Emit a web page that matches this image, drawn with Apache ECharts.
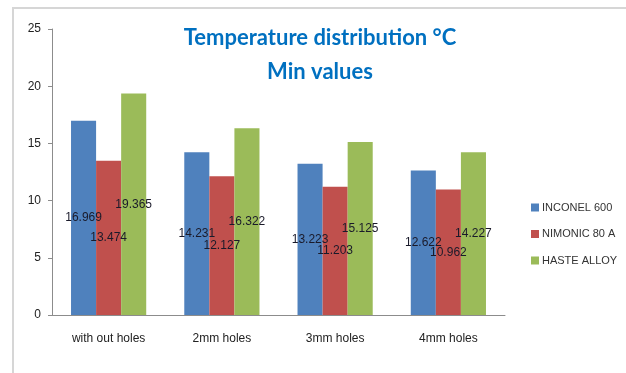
<!DOCTYPE html>
<html><head><meta charset="utf-8">
<script src="https://cdn.jsdelivr.net/npm/echarts@6/dist/echarts.min.js"></script>
<style>html,body{margin:0;padding:0;background:#fff}#c{width:626px;height:373px}</style>
</head><body><div id="c"></div>
<script>
const categories = ['with out holes', '2mm holes', '3mm holes', '4mm holes'];
const seriesNames = ['INCONEL 600', 'NIMONIC 80 A', 'HASTE ALLOY'];
const inconel = [16.969, 14.231, 13.223, 12.622];
const nimonic = [13.474, 12.127, 11.203, 10.962];
const haste = [19.365, 16.322, 15.125, 14.227];
const colors = ['#4F81BD', '#C0504D', '#9BBB59'];
const titleLines = ['Temperature distribution °C', 'Min values'];

const chart = echarts.init(document.getElementById('c'));
const values = [inconel, nimonic, haste];
chart.setOption({
  animation: false,
  graphic: [
    {type: 'rect', shape: {x: 13, y: 8, width: 700, height: 500}, style: {fill: 'none', stroke: '#d6d6d6', lineWidth: 2}, silent: true},
    {type: 'text', x: 320, y: 38, style: {text: titleLines[0], font: 'bold 22px Lato', fill: '#0070C0', textAlign: 'center', textVerticalAlign: 'middle'}},
    {type: 'text', x: 320, y: 72, style: {text: titleLines[1], font: 'bold 22px Lato', fill: '#0070C0', textAlign: 'center', textVerticalAlign: 'middle'}}
  ],
  legend: {
    orient: 'vertical', left: 526, top: 197,
    itemWidth: 8, itemHeight: 8, itemGap: 15.5,
    icon: 'rect',
    textStyle: {fontFamily: 'Liberation Sans', fontSize: 11, color: '#333', padding: [0,0,0,-2]},
    data: seriesNames
  },
  grid: {left: 52, right: 121, top: 29, bottom: 58},
  xAxis: {
    type: 'category', data: categories,
    axisLine: {lineStyle: {color: '#8c8c8c'}},
    axisTick: {length: 5, lineStyle: {color: '#8c8c8c'}},
    axisLabel: {fontFamily: 'Liberation Sans', fontSize: 12, color: '#222', margin: 18}
  },
  yAxis: {
    type: 'value', min: 0, max: 25, interval: 5,
    splitLine: {show: false},
    axisLine: {show: true, lineStyle: {color: '#8c8c8c'}},
    axisTick: {show: true, length: 4, lineStyle: {color: '#8c8c8c'}},
    axisLabel: {fontFamily: 'Liberation Sans', fontSize: 12, color: '#222', margin: 11}
  },
  series: seriesNames.map((n, i) => ({
    name: n, type: 'bar', data: values[i],
    barGap: '0%', barCategoryGap: '33.6%',
    itemStyle: {color: colors[i]},
    label: {show: true, position: 'inside', color: '#1a1a2a', fontFamily: 'Liberation Sans', fontSize: 12,
      formatter: p => p.value.toFixed(3)}
  }))
});
</script></body></html>
